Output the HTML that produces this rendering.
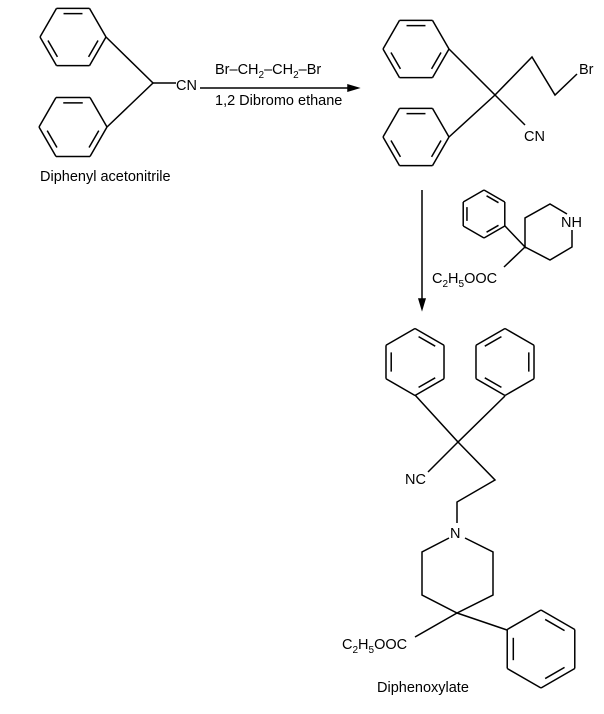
<!DOCTYPE html>
<html><head><meta charset="utf-8"><style>
body{margin:0;background:#fff}
svg{display:block}
text{font-family:"Liberation Sans",Arial,sans-serif;fill:#000}
</style></head><body>
<svg id="s" width="604" height="714" viewBox="0 0 604 714" xmlns="http://www.w3.org/2000/svg">
<g stroke="#000" stroke-width="1.5" fill="none" id="g">
<polyline points="106,37 153,83 107,127"/>
<line x1="153" y1="83" x2="176" y2="83"/>
<line x1="200" y1="88" x2="352" y2="88"/>
<polygon points="358,88 348,85 348,91" fill="#000"/>
<polyline points="449,49 495,95 449,137"/>
<polyline points="495,95 532,57 555,95 577,74"/>
<line x1="495" y1="95" x2="525" y2="125"/>
<line x1="422" y1="190" x2="422" y2="302"/>
<polygon points="422,309 419,299 425,299" fill="#000"/>
<polyline points="505,226 525,247 525,218 550,204 567,214"/>
<polyline points="572,230 572,247 550,260 525,247 504,267"/>
<polyline points="415,395 458,442 505,396"/>
<line x1="458" y1="442" x2="428" y2="472"/>
<polyline points="458,442 495,480 457,502 457,523"/>
<polyline points="449,538 422,552 422,595 457,613 493,595 493,552 465,538"/>
<line x1="457" y1="613" x2="415" y2="637"/>
<line x1="457" y1="613" x2="507" y2="630"/>
</g>
<g font-size="14.5">
<text x="176" y="90">CN</text>
<text x="215" y="74">Br–CH<tspan font-size="10" dy="4">2</tspan><tspan dy="-4">–CH</tspan><tspan font-size="10" dy="4">2</tspan><tspan dy="-4">–Br</tspan></text>
<text x="215" y="105">1,2 Dibromo ethane</text>
<text x="40" y="181">Diphenyl acetonitrile</text>
<text x="579" y="74">Br</text>
<text x="524" y="141">CN</text>
<text x="561" y="227">NH</text>
<text x="432" y="283">C<tspan font-size="10" dy="4">2</tspan><tspan dy="-4">H</tspan><tspan font-size="10" dy="4">5</tspan><tspan dy="-4">OOC</tspan></text>
<text x="405" y="484">NC</text>
<text x="450" y="538">N</text>
<text x="342" y="649">C<tspan font-size="10" dy="4">2</tspan><tspan dy="-4">H</tspan><tspan font-size="10" dy="4">5</tspan><tspan dy="-4">OOC</tspan></text>
<text x="377" y="692">Diphenoxylate</text>
</g>
</svg>
<script>
var g=document.getElementById('g'),NS="http://www.w3.org/2000/svg";
function ln(a,b,c,d){var l=document.createElementNS(NS,'line');l.setAttribute('x1',a);l.setAttribute('y1',b);l.setAttribute('x2',c);l.setAttribute('y2',d);g.appendChild(l);}
function hex(cx,cy,r,rot,dbl){var p=[];for(var i=0;i<6;i++){var a=(rot+60*i)*Math.PI/180;p.push([cx+r*Math.cos(a),cy+r*Math.sin(a)]);}
for(var i=0;i<6;i++){var A=p[i],B=p[(i+1)%6];ln(A[0],A[1],B[0],B[1]);}
dbl.forEach(function(i){var A=p[i],B=p[(i+1)%6];var k=0.82,t=0.15;
var a=[cx+(A[0]-cx)*k,cy+(A[1]-cy)*k],b=[cx+(B[0]-cx)*k,cy+(B[1]-cy)*k];
ln(a[0]+(b[0]-a[0])*t,a[1]+(b[1]-a[1])*t,b[0]+(a[0]-b[0])*t,b[1]+(a[1]-b[1])*t);});}
hex(73,37,33,0,[0,2,4]);
hex(73,127,34,0,[0,2,4]);
hex(416,49,33,0,[0,2,4]);
hex(416,137,33,0,[0,2,4]);
hex(484,214,24,-90,[0,2,4]);
hex(415,362,33.5,-90,[0,2,4]);
hex(505,362,33.5,-90,[5,1,3]);
hex(541,649,39,-90,[0,2,4]);
</script>
</body></html>
